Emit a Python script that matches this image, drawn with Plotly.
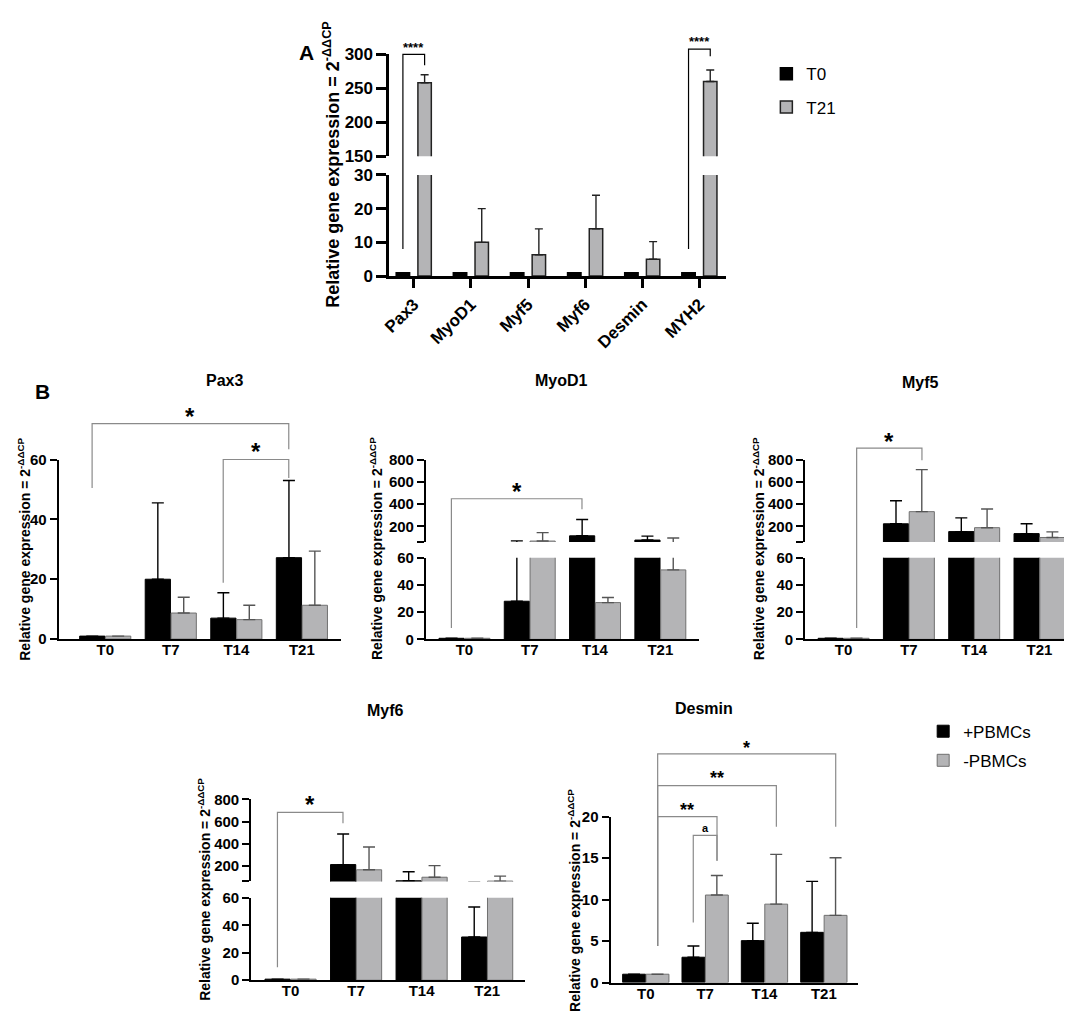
import plotly.graph_objects as go

W, H = 1072, 1011
FONT = "Liberation Sans, Arial, Helvetica, sans-serif"

# ---- panel A data (T0 vs T21) ----
genes = ["Pax3", "MyoD1", "Myf5", "Myf6", "Desmin", "MYH2"]
t0_mean = [1, 1, 1, 1, 1, 1]
t0_sd = [0, 0, 0, 0, 0, 0]
t21_mean = [258, 10, 6.3, 14, 5, 260]
t21_sd = [12, 10, 7.7, 10, 5.2, 17]

# ---- panel B data (+PBMCs / -PBMCs) ----
days = ["T0", "T7", "T14", "T21"]
pax3_plus = [1, 20, 7, 27.2]
pax3_plus_sd = [0, 25.5, 8.5, 25.8]
pax3_minus = [1, 8.7, 6.5, 11.3]
pax3_minus_sd = [0, 5.3, 4.8, 18.1]

myod1_plus = [0.8, 28, 115, 77]
myod1_plus_sd = [0, 42, 146, 35]
myod1_minus = [0.8, 68, 27, 51]
myod1_minus_sd = [0, 76, 3.7, 44]

myf5_plus = [0.8, 223, 153, 135]
myf5_plus_sd = [0, 207, 123, 88]
myf5_minus = [0.8, 332, 188, 100]
myf5_minus_sd = [0, 377, 168, 50]

myf6_plus = [0.8, 212, 66, 31.5]
myf6_plus_sd = [0, 276, 81, 21.8]
myf6_minus = [0.8, 165, 98, 63]
myf6_minus_sd = [0, 205, 105, 45]

desmin_plus = [1, 3.05, 5.05, 6.05]
desmin_plus_sd = [0, 1.35, 2.1, 6.15]
desmin_minus = [1, 10.55, 9.45, 8.1]
desmin_minus_sd = [0, 2.35, 6.0, 6.95]

GREY = "#b4b4b6"
YTITLE = "Relative gene expression = 2<sup>-ΔΔCP</sup>"


def key(kind, n):
    return f"{kind}axis" if n == 1 else f"{kind}axis{n}"


def ref(kind, n):
    return kind if n == 1 else f"{kind}{n}"


# panel geometry in pixels: x span, lower y span + range, optional upper y span + range
panels = {
    "A": dict(xn=1, low=2, up=3, xpx=(376, 715), xr=[-0.43, 5.46],
              lowpx=(264, 161), lowr=[0, 30], lowt=[0, 10, 20, 30],
              uppx=(142, 38), upr=[150, 300], upt=[150, 200, 250, 300]),
    "Pax3": dict(xn=2, low=4, up=None, xpx=(43, 327), xr=[-0.71, 3.59],
                 lowpx=(634, 451), lowr=[0, 60], lowt=[0, 20, 40, 60]),
    "MyoD1": dict(xn=3, low=5, up=6, xpx=(413, 688), xr=[-0.59, 3.59],
                  lowpx=(634.3, 551), lowr=[0, 60], lowt=[0, 20, 40, 60],
                  uppx=(535, 451), upr=[60, 800], upt=[200, 400, 600, 800]),
    "Myf5": dict(xn=4, low=7, up=8, xpx=(795, 1070), xr=[-0.59, 3.59],
                 lowpx=(634.3, 551), lowr=[0, 60], lowt=[0, 20, 40, 60],
                 uppx=(535, 451), upr=[60, 800], upt=[200, 400, 600, 800]),
    "Myf6": dict(xn=5, low=9, up=10, xpx=(237, 513), xr=[-0.6, 3.58],
                 lowpx=(981.7, 897.7), lowr=[0, 60], lowt=[0, 20, 40, 60],
                 uppx=(881, 797.3), upr=[60, 800], upt=[200, 400, 600, 800]),
    "Desmin": dict(xn=6, low=11, up=None, xpx=(599, 848), xr=[-0.594, 3.57],
                   lowpx=(984, 815), lowr=[0, 20], lowt=[0, 5, 10, 15, 20]),
}


def to_paper(p, v):
    b, t = p["lowpx"]
    r0, r1 = p["lowr"]
    if p["up"] is None or v <= r1:
        py = b + (v - r0) / (r1 - r0) * (t - b)
    else:
        b, t = p["uppx"]
        r0, r1 = p["upr"]
        py = b + (v - r0) / (r1 - r0) * (t - b)
    return 1 - py / H


fig = go.Figure()
layout = {}

for name, p in panels.items():
    big = name == "A"
    tsize = 17 if big else 15
    lw = 2.5 if big else 2
    tl = 10 if big else 7
    cats = genes if big else days
    layout[key("x", p["xn"])] = dict(
        domain=[p["xpx"][0] / W, p["xpx"][1] / W], range=p["xr"],
        anchor=ref("y", p["low"]), tickvals=list(range(len(cats))), ticktext=cats,
        showline=True, linecolor="black", linewidth=lw, showgrid=False, zeroline=False,
        ticks="outside" if big else "", ticklen=9, tickwidth=lw, tickcolor="black",
        tickangle=-45 if big else 0, ticklabelstandoff=0 if big else -4,
        tickfont=dict(family=FONT, size=tsize, color="black", weight="bold"),
    )
    segs = [("low", p["lowpx"], p["lowr"], p["lowt"])]
    if p["up"] is not None:
        segs.append(("up", p["uppx"], p["upr"], p["upt"]))
    for seg, (b, t), r, tv in segs:
        ax = dict(
            domain=[1 - b / H, 1 - t / H], range=r, anchor=ref("x", p["xn"]),
            tickvals=tv, showline=True, linecolor="black", linewidth=lw,
            showgrid=False, zeroline=False, ticks="outside", ticklen=tl,
            tickwidth=lw, tickcolor="black",
            tickfont=dict(family=FONT, size=tsize, color="black", weight="bold"),
        )
        if seg == "up" and not big:
            # unlabeled tick at the foot of the upper segment
            ax["minor"] = dict(tickvals=[r[0]], ticks="outside", ticklen=tl,
                               tickwidth=lw, tickcolor="black", showgrid=False)
        layout[key("y", p[seg])] = ax

fig.update_layout(**layout)


def add_bars(p, xs, ys, sd, fill, edge, ew, errc, errw, width, offset, name, legend, show_first):
    segs = [p["low"]] + ([p["up"]] if p["up"] is not None else [])
    for i, n in enumerate(segs):
        fig.add_trace(go.Bar(
            x=xs, y=ys, xaxis=ref("x", p["xn"]), yaxis=ref("y", n),
            width=width, offset=offset,
            marker=dict(color=fill, line=dict(color=edge, width=ew)),
            error_y=dict(type="data", symmetric=False,
                         array=[s if s else None for s in sd], arrayminus=[0] * len(sd),
                         color=errc, thickness=1.4, width=errw),
            name=name, legend=legend, legendgroup=name,
            showlegend=show_first and i == 0, hoverinfo="skip",
        ))


pa = panels["A"]
xa = list(range(len(genes)))
add_bars(pa, xa, t0_mean, t0_sd, "black", "black", 1.5, "black", 4, 0.235, -0.3075, "T0", "legend", True)
add_bars(pa, xa, t21_mean, t21_sd, GREY, "#222222", 1.5, "#222222", 4, 0.235, 0.0725, "T21", "legend", True)

xb = list(range(len(days)))
b_sets = [
    ("Pax3", pax3_plus, pax3_plus_sd, pax3_minus, pax3_minus_sd),
    ("MyoD1", myod1_plus, myod1_plus_sd, myod1_minus, myod1_minus_sd),
    ("Myf5", myf5_plus, myf5_plus_sd, myf5_minus, myf5_minus_sd),
    ("Myf6", myf6_plus, myf6_plus_sd, myf6_minus, myf6_minus_sd),
    ("Desmin", desmin_plus, desmin_plus_sd, desmin_minus, desmin_minus_sd),
]
for name, plus, plus_sd, minus, minus_sd in b_sets:
    p = panels[name]
    leg = name == "Desmin"
    add_bars(p, xb, plus, plus_sd, "black", "black", 1, "black", 6, 0.385, -0.39, "+PBMCs", "legend2", leg)
    add_bars(p, xb, minus, minus_sd, GREY, "#707070", 1, "#555555", 6, 0.385, 0.005, "-PBMCs", "legend2", leg)

# significance brackets: x left, x right, top, left foot, right foot, label, label centre, size
brackets = {
    "A": [(-0.19, 0.19, 300, 8, 284, "****", 314, 13),
          (4.81, 5.19, 307.6, 8, 297, "****", 323.5, 13)],
    "Pax3": [(-0.2, 2.8, 72, 50.5, 63.4, "*", 76, 24),
             (1.8, 2.8, 60, 18.8, 53.8, "*", 64.3, 24)],
    "MyoD1": [(-0.2, 1.8, 448, 8.4, 354, "*", 560, 24)],
    "Myf5": [(0.2, 1.2, 903, 8.4, 794, "*", 1010, 24)],
    "Myf6": [(-0.2, 0.8, 682, 9.5, 585, "*", 800, 24)],
    "Desmin": [(0.2, 3.2, 27.57, 4.4, 18.8, "*", 28.76, 18),
               (0.2, 2.2, 23.75, 4.4, 18.8, "**", 25.1, 18),
               (0.2, 1.2, 20, 4.4, 14.7, "**", 21.3, 18),
               (0.8, 1.2, 17.75, 7.25, 14.7, "a", 18.6, 11)],
}

shapes = []
annotations = []
for name, items in brackets.items():
    p = panels[name]
    xr = ref("x", p["xn"])
    col = "black" if name == "A" else "#8a8a8a"
    for xl, xrt, top, lf, rf, lab, ly, sz in items:
        yt = to_paper(p, top)
        path = (f"M {xl},{to_paper(p, lf)} L {xl},{yt} "
                f"L {xrt},{yt} L {xrt},{to_paper(p, rf)}")
        shapes.append(dict(type="path", path=path, xref=xr, yref="paper",
                           line=dict(color=col, width=1.2)))
        shift = -0.22 * sz if "*" in lab else 0
        annotations.append(dict(text=lab, x=(xl + xrt) / 2, y=to_paper(p, ly), xref=xr,
                                yref="paper", showarrow=False, yanchor="middle", yshift=shift,
                                font=dict(family=FONT, size=sz, color="black", weight="bold")))

# y axis titles and panel titles (pixel positions)
ytitles = [(318, 151, 18), (8, 542, 14), (363, 542, 14), (748, 542, 14), (190, 889, 14), (562, 900, 14)]
for x, y, sz in ytitles:
    annotations.append(dict(text=YTITLE, x=x / W, y=1 - y / H, xref="paper", yref="paper",
                            textangle=-90, showarrow=False, xanchor="center", yanchor="middle",
                            font=dict(family=FONT, size=sz, color="black", weight="bold")))

titles = [("Pax3", 189, 370), ("MyoD1", 550, 370), ("Myf5", 932, 372), ("Myf6", 372, 717), ("Desmin", 724, 715)]
for t, x, y in titles:
    annotations.append(dict(text=t, x=x / W, y=1 - y / H, xref="paper", yref="paper",
                            showarrow=False, font=dict(family=FONT, size=16, color="black", weight="bold")))

for t, x, y in [("A", 283, 22), ("B", 17, 382)]:
    annotations.append(dict(text=t, x=x / W, y=1 - y / H, xref="paper", yref="paper",
                            showarrow=False, font=dict(family=FONT, size=21, color="black", weight="bold")))

fig.update_layout(
    width=W, height=H, margin=dict(l=0, r=0, t=0, b=0),
    paper_bgcolor="white", plot_bgcolor="white", barmode="overlay",
    font=dict(family=FONT, color="black"),
    shapes=shapes, annotations=annotations,
    legend=dict(x=756 / W, y=1 - 40 / H, xanchor="left", yanchor="top", tracegroupgap=8,
                font=dict(family=FONT, size=17, color="black"), bgcolor="rgba(0,0,0,0)"),
    legend2=dict(x=914 / W, y=1 - 710 / H, xanchor="left", yanchor="top", tracegroupgap=4,
                 font=dict(family=FONT, size=17, color="black"), bgcolor="rgba(0,0,0,0)"),
)

fig.write_html("out.html")
